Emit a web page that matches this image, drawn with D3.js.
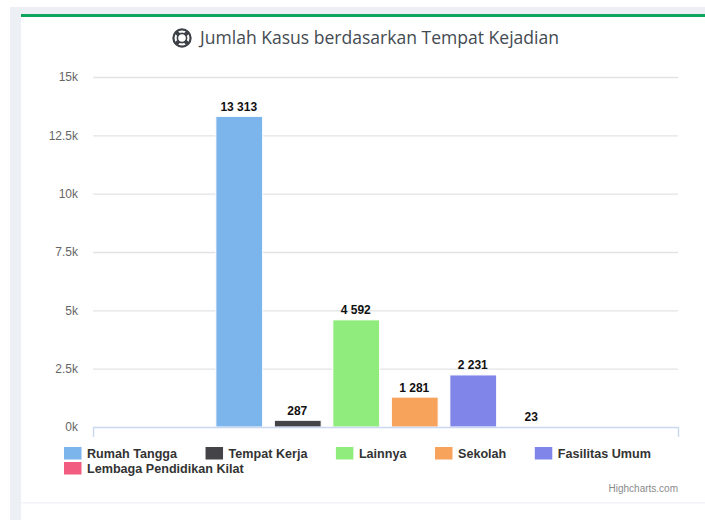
<!DOCTYPE html>
<html>
<head>
<meta charset="utf-8">
<script src="https://cdn.jsdelivr.net/npm/d3@7"></script>
<style>
  html, body { margin: 0; padding: 0; background: #fff; overflow: hidden; }
  svg { display: block; }
</style>
</head>
<body>
<div id="chart"></div>
<script>
const places = ["Rumah Tangga", "Tempat Kerja", "Lainnya", "Sekolah", "Fasilitas Umum", "Lembaga Pendidikan Kilat"];
const cases = [13313, 287, 4592, 1281, 2231, 23];
const barColors = ["#7cb5ec", "#434348", "#90ed7d", "#f7a35c", "#8085e9", "#f15c80"];
const yTicks = [0, 2500, 5000, 7500, 10000, 12500, 15000];
const yTickLabels = ["0k", "2.5k", "5k", "7.5k", "10k", "12.5k", "15k"];

const width = 705;
const height = 520;
const plot = { left: 93, right: 678, top: 77, bottom: 427 };

const svg = d3.select("#chart")
  .append("svg")
  .attr("width", width)
  .attr("height", height);

// page frame behind the card
svg.append("rect").attr("x", 10).attr("y", 7).attr("width", width - 10).attr("height", height - 7).attr("fill", "#eceff4");
svg.append("rect").attr("x", 21).attr("y", 14).attr("width", width - 21).attr("height", height - 14).attr("fill", "#fff");
svg.append("rect").attr("x", 21).attr("y", 14).attr("width", width - 21).attr("height", 3).attr("fill", "#0ea55f");
svg.append("rect").attr("x", 21).attr("y", 502).attr("width", width - 21).attr("height", 1.5).attr("fill", "#f1f3f6");

// title with lifebuoy icon
const icon = svg.append("g").attr("transform", "translate(182,38)");
icon.append("circle").attr("r", 8.6).attr("fill", "none").attr("stroke", "#3d4248").attr("stroke-width", 2.2);
icon.append("circle").attr("r", 4.6).attr("fill", "none").attr("stroke", "#3d4248").attr("stroke-width", 1.6);
[45, 135, 225, 315].forEach((a) => {
  icon.append("rect")
    .attr("x", 4).attr("y", -2).attr("width", 5).attr("height", 4)
    .attr("fill", "#3d4248")
    .attr("transform", `rotate(${a})`);
});

svg.append("text")
  .attr("x", 200)
  .attr("y", 44)
  .attr("font-family", "'Open Sans', sans-serif")
  .attr("font-size", 18)
  .attr("fill", "#444b52")
  .attr("textLength", 359)
  .attr("lengthAdjust", "spacingAndGlyphs")
  .text("Jumlah Kasus berdasarkan Tempat Kejadian");

const x = d3.scaleBand()
  .domain(places)
  .range([plot.left, plot.right])
  .paddingInner(0.2)
  .paddingOuter(2.1);

const y = d3.scaleLinear()
  .domain([0, 15000])
  .range([plot.bottom, plot.top]);

// gridlines
const grid = svg.append("g")
  .attr("transform", `translate(${plot.left},0)`)
  .call(d3.axisRight(y).tickValues(yTicks.slice(1)).tickSize(plot.right - plot.left).tickFormat(""));
grid.select(".domain").remove();
grid.selectAll("line").attr("stroke", "#e2e3e6").attr("stroke-width", 1.4);

// y labels
const yAxis = svg.append("g")
  .attr("transform", `translate(${plot.left},0)`)
  .call(d3.axisLeft(y).tickValues(yTicks).tickSize(0).tickPadding(15)
    .tickFormat((d, i) => yTickLabels[i]));
yAxis.select(".domain").remove();
yAxis.selectAll("text")
  .attr("font-family", "'Liberation Sans', Arial, sans-serif")
  .attr("font-size", 12)
  .attr("fill", "#666");

// bars, white border hides the tiniest one like Highcharts does
svg.append("g")
  .selectAll("rect")
  .data(places)
  .join("rect")
  .attr("x", (d) => x(d))
  .attr("y", (d, i) => y(cases[i]))
  .attr("width", x.bandwidth())
  .attr("height", (d, i) => y(0) - y(cases[i]))
  .attr("fill", (d, i) => barColors[i])
  .attr("stroke", "#fff")
  .attr("stroke-width", 1);

// x axis line with end ticks only
const xAxis = svg.append("g")
  .attr("transform", `translate(0,${plot.bottom})`)
  .call(d3.axisBottom(x).tickValues([]).tickSizeOuter(10));
xAxis.select(".domain").attr("stroke", "#c9d8ee").attr("stroke-width", 1.4);

// value labels
const spaced = d3.formatLocale({ decimal: ".", thousands: " ", grouping: [3], currency: ["", ""] }).format(",");
svg.append("g")
  .selectAll("text")
  .data(places)
  .join("text")
  .attr("x", (d) => x(d) + x.bandwidth() / 2 - 0.5)
  .attr("y", (d, i) => y(cases[i]) - 5.5)
  .attr("text-anchor", "middle")
  .attr("font-family", "'Liberation Sans', Arial, sans-serif")
  .attr("font-size", 12)
  .attr("font-weight", "bold")
  .attr("fill", "#111")
  .text((d, i) => spaced(cases[i]));

// legend, flowed by measured text width
const legend = svg.append("g");
let legendX = 64;
let legendY = 447;
places.forEach((name, i) => {
  const item = legend.append("g");
  const label = item.append("text")
    .attr("x", 23)
    .attr("y", 11)
    .attr("font-family", "'Liberation Sans', Arial, sans-serif")
    .attr("font-size", 12.6)
    .attr("font-weight", "bold")
    .attr("fill", "#333")
    .text(name);
  item.append("rect")
    .attr("width", 17.5)
    .attr("height", 12.5)
    .attr("fill", barColors[i]);
  const itemWidth = 23 + label.node().getComputedTextLength();
  if (legendX + itemWidth > plot.right) {
    legendX = 64;
    legendY += 15;
  }
  item.attr("transform", `translate(${legendX},${legendY})`);
  legendX += itemWidth + 28.5;
});

// credits
svg.append("text")
  .attr("x", plot.right)
  .attr("y", 492)
  .attr("text-anchor", "end")
  .attr("font-family", "'Liberation Sans', Arial, sans-serif")
  .attr("font-size", 10)
  .attr("fill", "#8a8a8a")
  .text("Highcharts.com");
</script>
</body>
</html>
